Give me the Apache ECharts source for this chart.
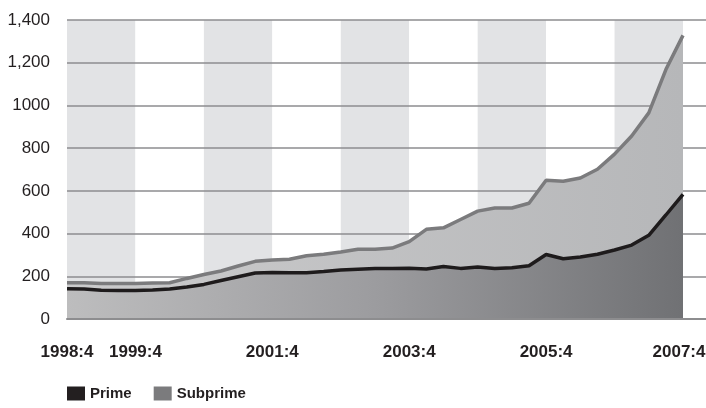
<!DOCTYPE html>
<html>
<head>
<meta charset="utf-8">
<script src="https://cdn.jsdelivr.net/npm/echarts@6/dist/echarts.min.js"></script>
<style>
html,body{margin:0;padding:0;background:#fff;}
#chart{width:706px;height:408px;}
</style>
</head>
<body>
<div id="chart"></div>
<script>
const categories = [
  "1998:4",
  "1999:1","1999:2","1999:3","1999:4",
  "2000:1","2000:2","2000:3","2000:4",
  "2001:1","2001:2","2001:3","2001:4",
  "2002:1","2002:2","2002:3","2002:4",
  "2003:1","2003:2","2003:3","2003:4",
  "2004:1","2004:2","2004:3","2004:4",
  "2005:1","2005:2","2005:3","2005:4",
  "2006:1","2006:2","2006:3","2006:4",
  "2007:1","2007:2","2007:3","2007:4"
];
const shownLabels = ["1998:4","1999:4","2001:4","2003:4","2005:4","2007:4"];
const subprime = [170,170,166,166,166,168,170,190,208,225,248,270,276,280,296,303,314,327,327,332,362,420,427,466,505,520,520,542,650,645,660,701,772,857,965,1168,1328];
const prime    = [142,140,135,134,134,136,140,150,162,180,198,215,218,216,217,222,229,233,237,237,238,234,246,237,243,236,240,249,302,282,290,303,323,346,392,487,584];
const yTickValues = [0,200,400,600,800,1000,1200,1400];
const yTickLabels = ["0","200","400","600","800","1000","1,200","1,400"];

const FONT = "'Liberation Sans','Arimo',Arial,sans-serif";
const TXT = "#231f20";
const GRIDC = "#8d8d8f";
const lastCat = categories[categories.length - 1];

const chart = echarts.init(document.getElementById('chart'), null, {renderer:'canvas'});
chart.setOption({
  animation:false,
  backgroundColor:'#ffffff',
  grid:[
    {left:67,right:0,top:20,bottom:89,containLabel:false,outerBoundsMode:'none'},
    {left:67,right:23,top:20,bottom:89,containLabel:false,outerBoundsMode:'none'}
  ],
  legend:{
    left:67, top:386, padding:0,
    itemWidth:18, itemHeight:14, itemGap:22,
    icon:'rect',
    textStyle:{fontFamily:FONT,fontWeight:'bold',fontSize:15,color:TXT},
    data:[
      {name:'Prime',itemStyle:{color:'#231f20'}},
      {name:'Subprime',itemStyle:{color:'#7b7b7d'}}
    ]
  },
  xAxis:[
    {gridIndex:0,type:'value',min:0,max:1,z:10,
      axisLine:{show:true,lineStyle:{color:GRIDC,width:2}},
      axisTick:{show:false},axisLabel:{show:false},splitLine:{show:false}},
    {gridIndex:1,type:'category',data:categories,boundaryGap:false,z:0,
      axisLine:{show:false},axisTick:{show:false},
      axisLabel:{
        interval:function(i,v){return shownLabels.indexOf(v)>=0;},
        formatter:function(v){return v===lastCat ? '{last|'+v+'}' : v;},
        rich:{last:{fontFamily:FONT,fontWeight:'bold',fontSize:17,color:TXT,padding:[0,8,0,0]}},
        fontFamily:FONT,fontWeight:'bold',fontSize:17,color:TXT,margin:25
      },
      splitLine:{show:false},
      splitArea:{show:true,interval:3,areaStyle:{color:['#e2e3e5','#ffffff']}}
    }
  ],
  yAxis:[
    {gridIndex:0,type:'value',min:0,max:1400,interval:200,z:1,
      axisLine:{show:false},axisTick:{show:false},
      axisLabel:{fontFamily:FONT,fontSize:17,color:TXT,margin:17,
        formatter:function(v){const k=yTickValues.indexOf(v);return k>=0?yTickLabels[k]:'';}},
      splitLine:{show:true,lineStyle:{color:GRIDC,width:1.5}}
    },
    {gridIndex:1,type:'value',min:0,max:1400,interval:200,show:false,splitLine:{show:false}}
  ],
  series:[
    {name:'Subprime',type:'line',xAxisIndex:1,yAxisIndex:1,data:subprime,
      symbol:'none',z:3,
      lineStyle:{color:'#7b7b7d',width:3.5},
      itemStyle:{color:'#7b7b7d'},
      areaStyle:{opacity:1,color:new echarts.graphic.LinearGradient(0,0,1,0,[
        {offset:0,color:'#cbcbcc'},{offset:1,color:'#b6b7b9'}])}
    },
    {name:'Prime',type:'line',xAxisIndex:1,yAxisIndex:1,data:prime,
      symbol:'none',z:4,
      lineStyle:{color:'#1e1b1c',width:3.5},
      itemStyle:{color:'#231f20'},
      areaStyle:{opacity:1,color:new echarts.graphic.LinearGradient(0,0,1,0,[
        {offset:0,color:'#bdbdbe'},{offset:0.5,color:'#9c9c9f'},{offset:1,color:'#707174'}])}
    }
  ]
});
</script>
</body>
</html>
